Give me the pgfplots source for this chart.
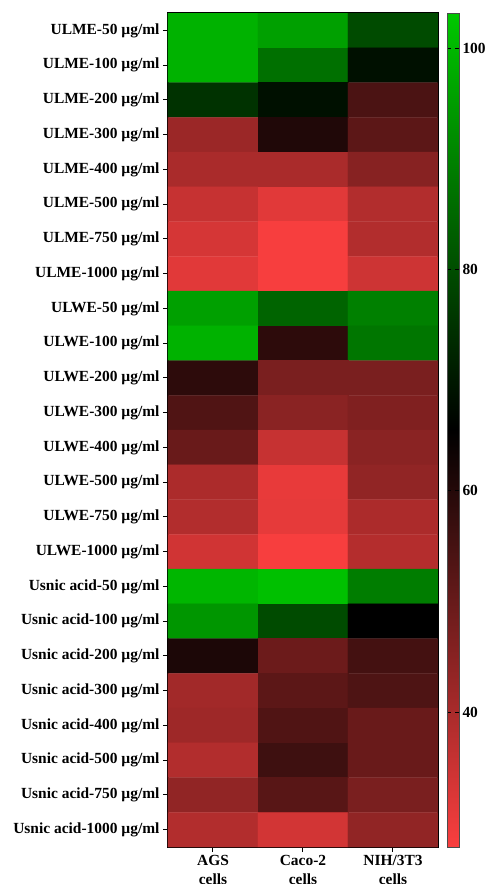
\documentclass[border=0pt]{standalone}
\usepackage{fontspec}
\setmainfont{Liberation Serif}
\usepackage{pgfplots}
\pgfplotsset{compat=1.18}
\usepackage{pgfplotstable}
\pgfplotstableread{
x y c
0 0 99.1
1 0 95.7
2 0 79.6
0 1 99.1
1 1 86.6
2 1 68.5
0 2 74.9
1 2 68.5
2 2 54.2
0 3 42.1
1 3 60.7
2 3 51.6
0 4 39.9
1 4 39.9
2 4 45.1
0 5 35.6
1 5 31.6
2 5 38.7
0 6 33.4
1 6 28.3
2 6 38.7
0 7 31.6
1 7 28.3
2 7 34.6
0 8 95.7
1 8 84.4
2 8 89.6
0 9 99.1
1 9 58.7
2 9 87.7
0 10 58.7
1 10 47.1
2 10 47.1
0 11 53.4
1 11 44.7
2 11 46.2
0 12 49.7
1 12 35.6
2 12 44.7
0 13 39.6
1 13 30.5
2 13 43.6
0 14 38.7
1 14 30.8
2 14 39.6
0 15 34.1
1 15 28.3
2 15 38.4
0 16 99.8
1 16 101.7
2 16 89.1
0 17 93.8
1 17 79.6
2 17 65.5
0 18 61.3
1 18 49.2
2 18 55.2
0 19 41.1
1 19 51.6
2 19 53.7
0 20 41.7
1 20 53.4
2 20 49.7
0 21 38.7
1 21 56.2
2 21 49.7
0 22 43.6
1 22 52.2
2 22 47.1
0 23 38.7
1 23 33.8
2 23 43.6
}\heat
\begin{document}
\begin{tikzpicture}
\begin{axis}[
  scale only axis,
  width=270bp, height=834bp,
  xmin=-0.5, xmax=2.5, ymin=-0.5, ymax=23.5,
  y dir=reverse,
  enlargelimits=false,
  axis line style={line width=1.6bp},
  tick align=outside,
  tick style={black, line width=1bp},
  major tick length=5bp,
  xtick={0,1,2},
  xticklabels={AGS\\cells, Caco-2\\cells, NIH/3T3\\cells},
  xticklabel style={align=center, font=\fontsize{15.5}{18.5}\selectfont\bfseries},
  ytick={0,...,23},
  yticklabels={ULME-50 µg/ml, ULME-100 µg/ml, ULME-200 µg/ml, ULME-300 µg/ml, ULME-400 µg/ml, ULME-500 µg/ml, ULME-750 µg/ml, ULME-1000 µg/ml,
    ULWE-50 µg/ml, ULWE-100 µg/ml, ULWE-200 µg/ml, ULWE-300 µg/ml, ULWE-400 µg/ml, ULWE-500 µg/ml, ULWE-750 µg/ml, ULWE-1000 µg/ml,
    Usnic acid-50 µg/ml, Usnic acid-100 µg/ml, Usnic acid-200 µg/ml, Usnic acid-300 µg/ml, Usnic acid-400 µg/ml, Usnic acid-500 µg/ml, Usnic acid-750 µg/ml, Usnic acid-1000 µg/ml},
  yticklabel style={font=\fontsize{15.5}{17}\selectfont\bfseries},
  xtick pos=lower, ytick pos=left,
  colormap={rbg}{rgb255=(250,63,63) rgb255=(0,0,0) rgb255=(0,200,0)},
  point meta min=27.8, point meta max=103.2,
  colorbar shift/.style={xshift=9bp},
  colorbar,
  colorbar style={
    width=12bp,
    at={(parent axis.north east)}, anchor=north west,
    ytick={40,60,80,100},
    yticklabel style={font=\fontsize{15.5}{17}\selectfont\bfseries, /pgf/number format/assume math mode=true},
    axis line style={line width=0.6bp, black!70},
    tick style={black, line width=0.8bp},
    major tick length=4bp,
  },
]
\addplot[matrix plot*, mesh/cols=3, mesh/rows=24, point meta=explicit] table[x=x, y=y, meta=c] {\heat};
\end{axis}
\pgfresetboundingbox
\path[use as bounding box] (-168bp,-37bp) rectangle (321bp,847bp);
\end{tikzpicture}
\end{document}
